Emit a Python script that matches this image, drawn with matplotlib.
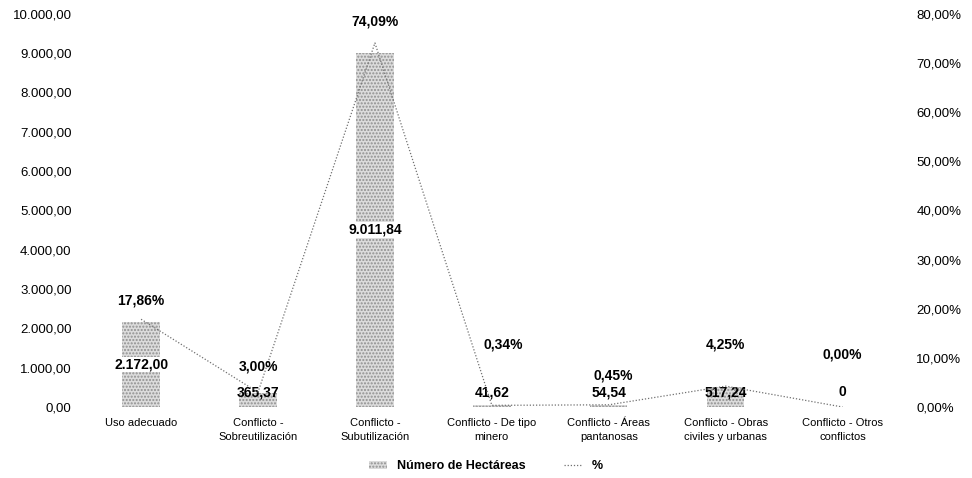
import matplotlib.pyplot as plt
from matplotlib.ticker import FuncFormatter
import numpy as np

plt.rcParams['font.family'] = ['Liberation Sans', 'DejaVu Sans']

categories = ['Uso adecuado', 'Conflicto -\nSobreutilización', 'Conflicto -\nSubutilización',
              'Conflicto - De tipo\nminero', 'Conflicto - Áreas\npantanosas',
              'Conflicto - Obras\nciviles y urbanas', 'Conflicto - Otros\nconflictos']
hectareas = [2172.00, 365.37, 9011.84, 41.62, 54.54, 517.24, 0]
hect_labels = ['2.172,00', '365,37', '9.011,84', '41,62', '54,54', '517,24', '0']
porcentaje = [17.86, 3.00, 74.09, 0.34, 0.45, 4.25, 0.00]
pct_labels = ['17,86%', '3,00%', '74,09%', '0,34%', '0,45%', '4,25%', '0,00%']


def fmt_num(v, pos=None):
    s = f'{v:,.2f}'
    return s.replace(',', 'X').replace('.', ',').replace('X', '.')


def fmt_pct(v, pos=None):
    return f'{v:.2f}'.replace('.', ',') + '%'


fig = plt.figure(figsize=(9.72, 4.78), dpi=100)
ax = fig.add_axes([0.085, 0.1485, 0.842, 0.8225])
ax2 = ax.twinx()

x = np.arange(len(categories))
bars = ax.bar(x, hectareas, width=0.32, color='#dcdcdc', hatch='.....',
              edgecolor='#909090', linewidth=0, label='Número de Hectáreas')
ax2.plot(x, porcentaje, linestyle=(0, (1, 1.5)), color='#707070', linewidth=0.9, label='%')

ax.set_xlim(-0.5, 6.5)
ax.set_ylim(0, 10000)
ax.set_yticks(np.arange(0, 10001, 1000))
ax.yaxis.set_major_formatter(FuncFormatter(fmt_num))
ax2.set_ylim(0, 80)
ax2.set_yticks(np.arange(0, 81, 10))
ax2.yaxis.set_major_formatter(FuncFormatter(fmt_pct))

ax.set_xticks(x)
ax.set_xticklabels(categories, fontsize=8, linespacing=1.45)
for a in (ax, ax2):
    for s in a.spines.values():
        s.set_visible(False)
    a.tick_params(length=0, labelsize=9.5)
ax.tick_params(axis='y', pad=8)
ax2.tick_params(axis='y', pad=11)
ax.tick_params(axis='x', pad=8, labelsize=8)

# bar value labels
for i, (v, lab) in enumerate(zip(hectareas, hect_labels)):
    big = v > 1500
    y = v / 2 if big else 380
    ax.text(i, y, lab, ha='center', va='center', fontsize=10, fontweight='bold',
            bbox=dict(facecolor='white', edgecolor='none', pad=0.5) if big else None)

# percent labels (offset above each point, in % units)
pct_offsets = [3.9, 5.3, 4.3, 12.3, 5.9, 8.4, 10.6]
pct_dx = [0, 0, 0, 0.1, 0.04, 0, 0]
for i, (p, lab, off, dx) in enumerate(zip(porcentaje, pct_labels, pct_offsets, pct_dx)):
    ax2.text(i + dx, p + off, lab, ha='center', va='center', fontsize=10, fontweight='bold')

h1, l1 = ax.get_legend_handles_labels()
h2, l2 = ax2.get_legend_handles_labels()
leg = fig.legend(h1 + h2, l1 + l2, loc='lower center', bbox_to_anchor=(0.5, -0.012), ncol=2,
                 frameon=False, fontsize=9, handlelength=1.5, columnspacing=3,
                 prop={'weight': 'bold', 'size': 9})

fig.savefig('out.png', dpi=100)
